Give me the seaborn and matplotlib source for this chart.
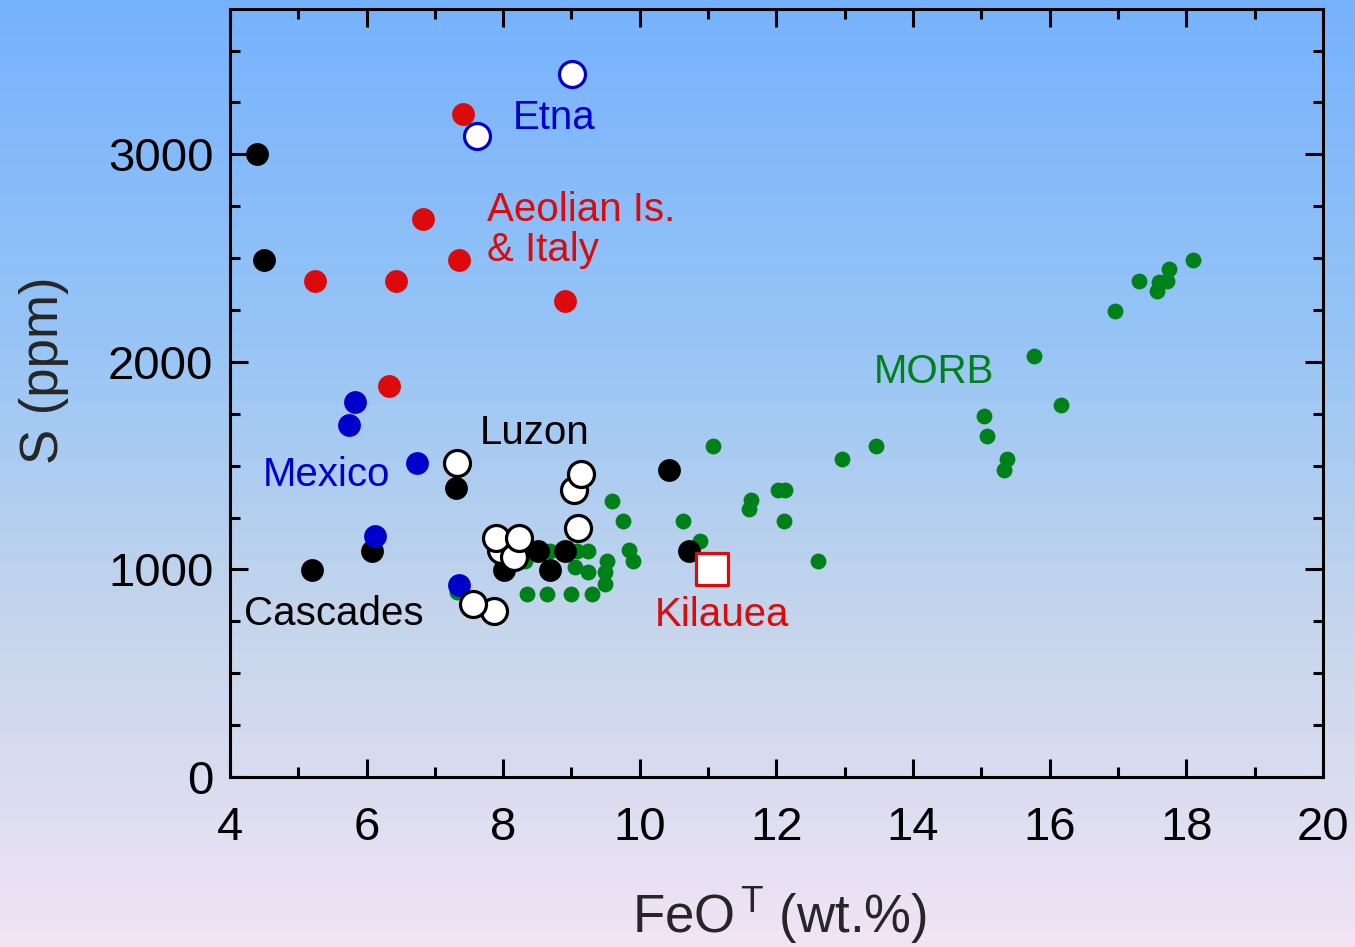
import numpy as np
import pandas as pd
import matplotlib.pyplot as plt
from matplotlib.ticker import MultipleLocator
import seaborn as sns

# FeO total (wt.%) vs S (ppm)
morb_feo = [8.35, 8.64, 9.0, 9.3, 9.49, 9.49, 9.52, 9.24, 9.24, 9.05, 9.08, 8.68, 8.32, 7.32,
            9.6, 9.75, 9.84, 9.9, 10.63, 10.88, 11.07, 11.6, 11.63, 12.02, 12.12, 12.11, 12.61,
            12.96, 13.46, 15.04, 15.08, 15.37, 15.33, 15.77, 16.16, 16.95, 17.31, 17.57, 17.6,
            17.72, 17.75, 18.1]
morb_s = [880, 880, 880, 880, 930, 990, 1040, 1090, 990, 1010, 1090, 1090, 1040, 890,
          1330, 1235, 1095, 1040, 1235, 1135, 1595, 1290, 1335, 1385, 1385, 1235, 1040,
          1530, 1595, 1740, 1645, 1530, 1480, 2030, 1790, 2245, 2390, 2340, 2385,
          2390, 2445, 2490]

cascades_feo = [4.4, 4.5, 5.2, 6.08, 7.31, 8.01, 8.51, 8.68, 8.9, 10.43, 10.72]
cascades_s = [3000, 2490, 995, 1090, 1390, 995, 1090, 995, 1090, 1480, 1090]

mexico_feo = [5.83, 5.74, 6.74, 6.12, 7.35]
mexico_s = [1805, 1695, 1515, 1160, 925]

aeolian_feo = [7.41, 6.83, 7.35, 5.24, 6.43, 8.9, 6.33]
aeolian_s = [3195, 2690, 2490, 2390, 2390, 2295, 1885]

luzon_feo = [7.32, 9.04, 9.14, 9.09, 7.97, 8.16, 7.89, 8.23, 7.86, 7.56]
luzon_s = [1515, 1385, 1460, 1200, 1095, 1060, 1150, 1150, 800, 835]

etna_feo = [9.01, 7.62]
etna_s = [3385, 3090]

kilauea_feo = [11.05]
kilauea_s = [1000]

sns.set_style("ticks")
plt.rcParams['font.family'] = ['Liberation Sans', 'DejaVu Sans']
plt.rcParams['mathtext.fontset'] = 'custom'
plt.rcParams['mathtext.rm'] = 'Liberation Sans'
plt.rcParams['mathtext.it'] = 'Liberation Sans:italic'
plt.rcParams['mathtext.bf'] = 'Liberation Sans:bold'

fig = plt.figure(figsize=(13.55, 9.47), dpi=100)

# blue -> lavender gradient behind everything
bg = fig.add_axes([0, 0, 1, 1], zorder=-10)
stops = [0.0, 0.35, 0.65, 1.0]
cols = np.array([[118, 178, 253], [150, 196, 246], [196, 213, 236], [241, 228, 245]]) / 255
t = np.linspace(0, 1, 400)
grad = np.stack([np.interp(t, stops, cols[:, i]) for i in range(3)], axis=-1)[:, None, :]
bg.imshow(grad, aspect='auto', extent=[0, 1, 0, 1])
bg.axis('off')

ax = fig.add_axes([0.1697, 0.1795, 0.8066, 0.811])
ax.set_facecolor('none')

red = '#dc0a0a'
blue = '#0000cc'
green = '#008018'

sns.scatterplot(x=morb_feo, y=morb_s, ax=ax, s=130, color=green, linewidth=0, zorder=2)
sns.scatterplot(x=cascades_feo, y=cascades_s, ax=ax, s=270, color='black', linewidth=0, zorder=3)
sns.scatterplot(x=mexico_feo, y=mexico_s, ax=ax, s=270, color=blue, linewidth=0, zorder=4)
sns.scatterplot(x=aeolian_feo, y=aeolian_s, ax=ax, s=270, color=red, linewidth=0, zorder=4)
sns.scatterplot(x=luzon_feo, y=luzon_s, ax=ax, s=350, color='white', edgecolor='black',
                linewidth=2.3, zorder=5)
sns.scatterplot(x=etna_feo, y=etna_s, ax=ax, s=350, color='white', edgecolor=blue,
                linewidth=2.3, zorder=5)
sns.scatterplot(x=kilauea_feo, y=kilauea_s, ax=ax, marker='s', s=500, color='white',
                edgecolor=red, linewidth=2.3, zorder=6)

lab = dict(fontsize=29, ha='left', va='baseline')
ax.text(8.14, 3121, 'Etna', color=blue, **lab)
ax.text(7.76, 2677, 'Aeolian Is.', color=red, **lab)
ax.text(7.76, 2487, '& Italy', color=red, **lab)
ax.text(13.43, 1896, 'MORB', color=green, **lab)
ax.text(7.66, 1604, 'Luzon', color='black', **lab)
ax.text(4.48, 1404, 'Mexico', color=blue, **lab)
ax.text(4.20, 733, 'Cascades', color='black', **lab)
ax.text(10.22, 728, 'Kilauea', color=red, **lab)

ax.set_xlim(4, 20)
ax.set_ylim(0, 3700)
ax.set_xticks(range(4, 21, 2))
ax.xaxis.set_minor_locator(MultipleLocator(1))
ax.set_yticks([0, 1000, 2000, 3000])
ax.yaxis.set_minor_locator(MultipleLocator(250))
ax.tick_params(which='both', direction='in', top=True, right=True, width=2.2,
               labelsize=34, colors='black')
ax.tick_params(which='major', length=13)
ax.tick_params(which='minor', length=7)
ax.tick_params(axis='x', which='both', pad=21)
ax.tick_params(axis='y', which='both', pad=12)
for sp in ax.spines.values():
    sp.set_linewidth(2.2)
    sp.set_color('black')

ax.set_xlabel(r"FeO$^{\,\mathrm{T}}$ (wt.%)", fontsize=38)
ax.xaxis.label.set_va('baseline')
ax.xaxis.set_label_coords(0.503, -0.2025)
ax.set_ylabel('S (ppm)', fontsize=38)
ax.yaxis.label.set_va('baseline')
ax.yaxis.set_label_coords(-0.157, 0.530)

fig.savefig('out.png', dpi=100)
